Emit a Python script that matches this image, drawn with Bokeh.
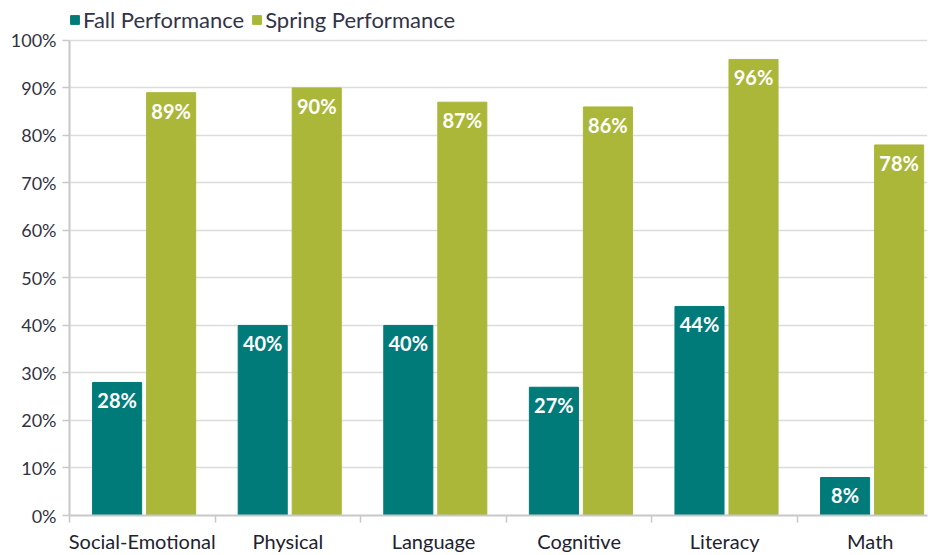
from bokeh.plotting import figure
from bokeh.models import (ColumnDataSource, Range1d, FixedTicker, PrintfTickFormatter,
                          Legend, LegendItem)
from bokeh.core.properties import value
from bokeh.embed import file_html
from bokeh.resources import INLINE

categories = ["Social-Emotional", "Physical", "Language", "Cognitive", "Literacy", "Math"]
fall = [28, 40, 40, 27, 44, 8]
spring = [89, 90, 87, 86, 96, 78]
y_ticks = [0, 10, 20, 30, 40, 50, 60, 70, 80, 90, 100]

FALL_C = "#007b7a"
SPRING_C = "#abb739"
FONT = "Lato"

idx = list(range(len(categories)))
fall_x = [i + 0.327 for i in idx]
spring_x = [i + 0.698 for i in idx]
bw = 0.337

src_f = ColumnDataSource(dict(x=fall_x, top=fall, lab=[f"{v}%" for v in fall]))
src_s = ColumnDataSource(dict(x=spring_x, top=spring, lab=[f"{v}%" for v in spring]))

# frame: top at 6px, 0% at 516px, 100% at 40px -> extra headroom above 100 for the legend
p = figure(width=933, height=555, output_backend="svg", toolbar_location=None,
           x_range=Range1d(0, 5.893), y_range=Range1d(0, 107.14),
           min_border_left=69, min_border_right=6, min_border_top=6, min_border_bottom=39)
p.outline_line_color = None
p.background_fill_color = "white"

rf = p.vbar(x="x", top="top", width=bw, bottom=0, source=src_f, color=FALL_C)
rs = p.vbar(x="x", top="top", width=bw, bottom=0, source=src_s, color=SPRING_C)

for s in (src_f, src_s):
    p.text(x="x", y="top", text="lab", source=s, text_color="white",
           text_font=value(FONT), text_font_style="bold", text_font_size="20px",
           text_align="center", text_baseline="top", y_offset=6)

# y axis
p.yaxis.ticker = FixedTicker(ticks=y_ticks)
p.yaxis.bounds = (0, 100)
p.yaxis.formatter = PrintfTickFormatter(format="%d%%")
p.yaxis.major_label_text_font = FONT
p.yaxis.major_label_text_font_size = "18px"
p.yaxis.major_label_text_color = "#33333f"
p.yaxis.axis_line_color = "#c8c8c8"
p.yaxis.axis_line_width = 2
p.yaxis.major_tick_line_color = "#c8c8c8"
p.yaxis.major_tick_line_width = 1.5
p.yaxis.major_tick_out = 7
p.yaxis.major_tick_in = 0
p.yaxis.minor_tick_line_color = None
p.yaxis.major_label_standoff = 6

# x axis: labels at centers, tick marks at boundaries
centers = [i + 0.5 for i in idx]
p.xaxis.ticker = FixedTicker(ticks=centers, minor_ticks=[0, 1, 2, 3, 4, 5])
p.xaxis.major_label_overrides = {c: n for c, n in zip(centers, categories)}
p.xaxis.major_tick_line_color = None
p.xaxis.major_tick_out = 0
p.xaxis.major_tick_in = 0
p.xaxis.minor_tick_line_color = "#c8c8c8"
p.xaxis.minor_tick_line_width = 1.5
p.xaxis.minor_tick_out = 7
p.xaxis.minor_tick_in = 0
p.xaxis.axis_line_color = "#c8c8c8"
p.xaxis.axis_line_width = 2
p.xaxis.major_label_text_font = FONT
p.xaxis.major_label_text_font_size = "20px"
p.xaxis.major_label_text_color = "#22222f"
p.xaxis.major_label_standoff = 6

p.xgrid.grid_line_color = None
p.ygrid.ticker = FixedTicker(ticks=y_ticks[1:])
p.ygrid.grid_line_color = "#dcdcdc"
p.ygrid.grid_line_width = 1.5

legend = Legend(items=[LegendItem(label="Fall Performance", renderers=[rf]),
                       LegendItem(label="Spring Performance", renderers=[rs])],
                orientation="horizontal", location="top_left",
                label_text_font=FONT, label_text_font_size="22px",
                label_text_color="#33334a", glyph_width=11, glyph_height=11,
                label_standoff=3, spacing=7, padding=0, margin=0,
                border_line_color=None, background_fill_alpha=0)
p.add_layout(legend, "center")

open("out.html", "w").write(file_html(p, INLINE))
